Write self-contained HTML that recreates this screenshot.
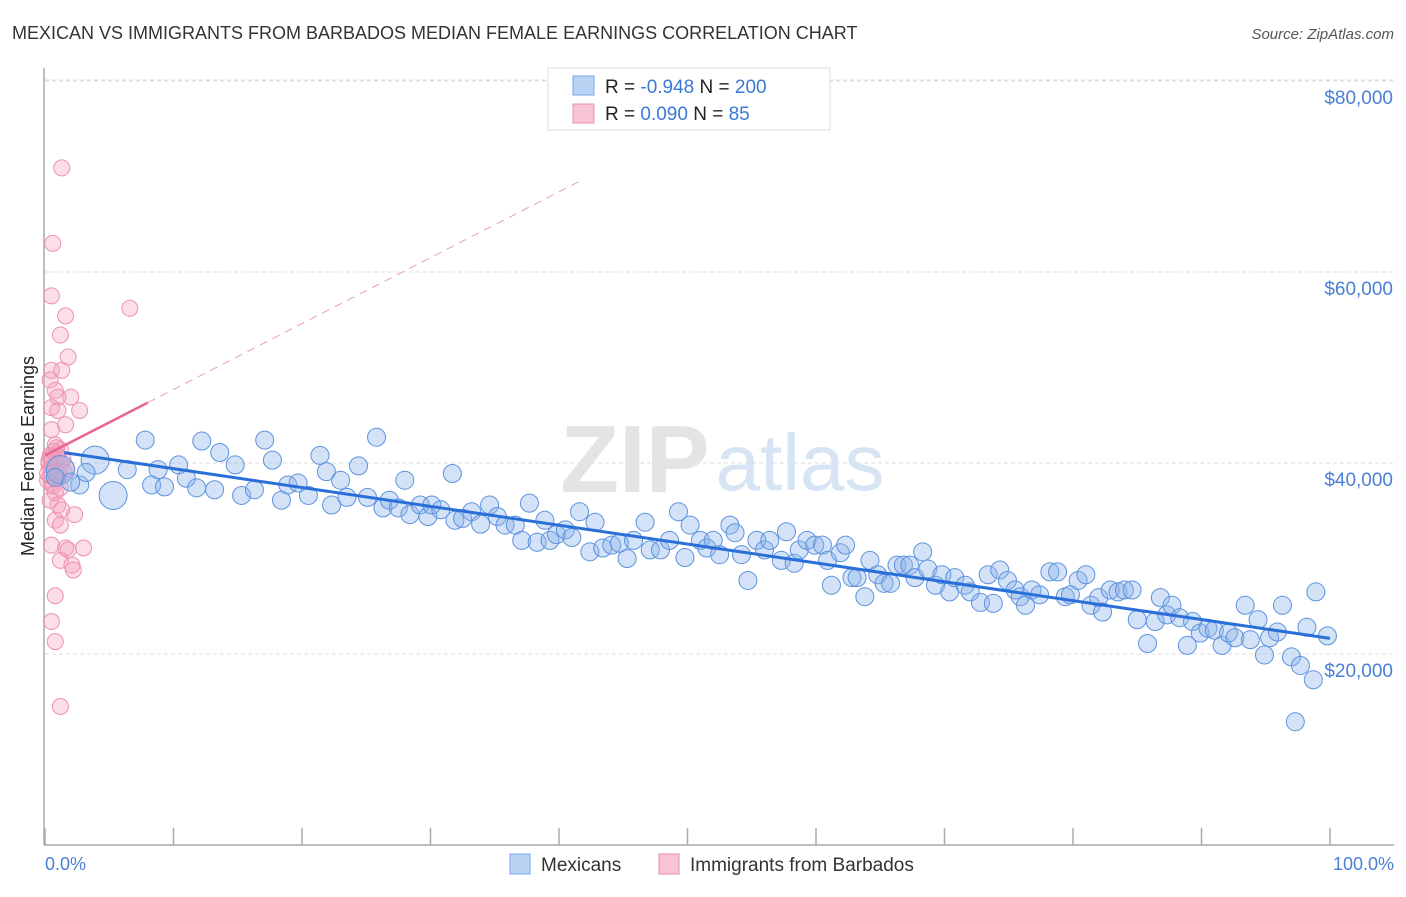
<!DOCTYPE html>
<html><head><meta charset="utf-8">
<style>
body{margin:0;background:#fff;font-family:"Liberation Sans",sans-serif;}
svg text{font-family:"Liberation Sans",sans-serif;}
</style></head>
<body>
<svg id="chart" width="1406" height="892" viewBox="0 0 1406 892">
  <text x="12" y="39" font-size="18" fill="#333">MEXICAN VS IMMIGRANTS FROM BARBADOS MEDIAN FEMALE EARNINGS CORRELATION CHART</text>
  <text x="1394" y="39" font-size="15" fill="#555" font-style="italic" text-anchor="end">Source: ZipAtlas.com</text>
  <g id="grid"></g>
  <g>
    <text x="635" y="492" font-size="96" fill="#e4e4e4" font-family="Liberation Serif" text-anchor="middle" font-weight="bold">ZIP</text>
    <text x="800" y="490" font-size="80" fill="#d6e4f4" text-anchor="middle">atlas</text>
  </g>
  <line x1="44" y1="68" x2="44" y2="845" stroke="#aaa" stroke-width="1.5"/>
  <line x1="44" y1="845" x2="1394" y2="845" stroke="#aaa" stroke-width="1.5"/>
  <g id="xticks"></g>
  <g id="yticks"></g>
  <text transform="translate(34,456) rotate(-90)" font-size="18" fill="#222" text-anchor="middle">Median Female Earnings</text>
  <text x="45" y="870" font-size="18" fill="#4a7fd6">0.0%</text>
  <text x="1394" y="870" font-size="18" fill="#4a7fd6" text-anchor="end">100.0%</text>
  <g id="pinkPts"></g>
  <g id="bluePts"></g>
  <g id="trends"></g>
  <g>
    <rect x="548" y="68" width="282" height="62" fill="#fff" stroke="#ddd"/>
    <rect x="573" y="76" width="21" height="19" fill="#b9d3f5" stroke="#7aa6e6"/>
    <rect x="573" y="104" width="21" height="19" fill="#f8c3d4" stroke="#ea8fae"/>
    <text x="605" y="93" font-size="19" fill="#222">R = <tspan fill="#3a78d8">-0.948</tspan>   N = <tspan fill="#3a78d8">200</tspan></text>
    <text x="605" y="120" font-size="19" fill="#222">R =  <tspan fill="#3a78d8">0.090</tspan>   N =   <tspan fill="#3a78d8">85</tspan></text>
  </g>
  <g>
    <rect x="510" y="854" width="20" height="20" fill="#b9d3f5" stroke="#7aa6e6"/>
    <text x="541" y="871" font-size="19" fill="#333">Mexicans</text>
    <rect x="659" y="854" width="20" height="20" fill="#f8c3d4" stroke="#ea8fae"/>
    <text x="690" y="871" font-size="19" fill="#333">Immigrants from Barbados</text>
  </g>
</svg>
<script>
const yTicks=[20000,40000,60000,80000];
const yTickLabels=["$20,000","$40,000","$60,000","$80,000"];
const xTicks=[0,10,20,30,40,50,60,70,80,90,100];
const blueX=[1.2,3.9,2.7,5.3,6.4,7.8,8.3,8.8,9.3,10.4,11,11.8,12.2,13.2,13.6,14.8,15.3,16.3,17.1,17.7,18.4,18.9,19.7,20.5,21.4,21.9,22.3,23,23.5,24.4,25.1,25.8,26.3,26.8,27.5,28,28.4,29.2,29.8,30.1,30.8,31.7,31.9,32.5,33.2,33.9,34.6,35.2,35.8,36.6,37.1,37.7,38.3,38.9,39.3,39.8,40.5,41,41.6,42.4,42.8,43.4,44.1,44.7,45.3,45.8,46.7,47.1,47.9,48.6,49.3,49.8,50.2,51,51.5,52,52.5,53.3,53.7,54.2,54.7,55.4,56,56.4,57.3,57.7,58.3,58.7,59.3,59.9,60.5,60.9,61.2,61.9,62.3,62.8,63.2,63.8,64.2,64.8,65.3,65.8,66.3,66.8,67.3,67.7,68.3,68.7,69.3,69.8,70.4,70.8,71.6,72,72.8,73.4,73.8,74.3,74.9,75.5,75.9,76.3,76.8,77.4,78.2,78.8,79.4,79.8,80.4,81,81.4,82,82.3,82.9,83.5,84,84.6,85,85.8,86.4,86.8,87.3,87.7,88.3,88.9,89.3,89.9,90.5,91,91.6,92.1,92.6,93.4,93.8,94.4,94.9,95.3,95.9,96.3,97,97.7,98.2,98.7,97.3,98.9,99.8,0.8,2.0,3.2];
const blueY=[39.3,40.3,37.7,36.6,39.3,42.4,37.7,39.3,37.5,39.8,38.4,37.4,42.3,37.2,41.1,39.8,36.6,37.2,42.4,40.3,36.1,37.7,37.9,36.6,40.8,39.1,35.6,38.2,36.4,39.7,36.4,42.7,35.3,36.1,35.3,38.2,34.6,35.6,34.4,35.6,35.1,38.9,34,34.2,34.9,33.6,35.6,34.4,33.5,33.5,31.9,35.8,31.7,34,31.9,32.5,33,32.2,34.9,30.7,33.8,31.1,31.4,31.6,30,31.9,33.8,30.9,30.9,31.9,34.9,30.1,33.5,31.9,31.1,31.9,30.4,33.5,32.7,30.4,27.7,31.9,30.9,31.9,29.8,32.8,29.5,30.9,31.9,31.4,31.4,29.8,27.2,30.6,31.4,28,28,26,29.8,28.3,27.4,27.4,29.3,29.3,29.3,28,30.7,28.9,27.2,28.3,26.5,28,27.2,26.5,25.4,28.3,25.3,28.8,27.7,26.7,26,25.1,26.7,26.2,28.6,28.6,26,26.2,27.7,28.3,25.1,25.9,24.4,26.7,26.5,26.7,26.7,23.6,21.1,23.4,25.9,24.1,25.1,23.8,20.9,23.4,22.2,22.7,22.5,20.9,22.2,21.7,25.1,21.5,23.6,19.9,21.7,22.3,25.1,19.7,18.8,22.8,17.3,12.9,26.5,21.9,38.5,38.0,39.0];
const blueBig=[1,1,0,1,0,0,0,0,0,0,0];
const pinkX=[1.3,0.6,0.5,1.6,6.6,1.2,1.8,0.5,1.3,0.4,0.8,2,1,2.7,0.5,1,1.6,0.5,0.8,1.2,0.4,1,0.5,1.3,0.8,0.4,1,0.5,1.2,0.8,0.4,1,1.3,2.3,0.8,1.2,0.5,1.6,1.8,3,1.2,2.1,2.2,0.8,0.5,0.8,1.2,0.3,0.6,0.9,1.5,0.2,0.7,1.1,1.4,0.3,0.6,0.9,1.7,0.2,0.5];
const pinkY=[70.9,63,57.5,55.4,56.2,53.4,51.1,49.7,49.7,48.7,47.6,46.9,46.9,45.5,45.8,45.5,44,43.5,41.9,41.4,40.8,40.5,40.1,39.8,39.3,38.7,38.4,37.9,37.4,36.9,36.1,35.6,35.1,34.6,34,33.5,31.4,31.1,30.9,31.1,29.8,29.3,28.8,26.1,23.4,21.3,14.5,40.2,39.6,40.9,39.0,38.2,41.2,38.8,40.4,39.9,37.6,41.6,39.4,38.9,40.6];
const pinkTrend=[40.8,0.69];
const X=p=>45+p*12.85;
const Y=k=>845-k*1000/20000*191;
const NS="http://www.w3.org/2000/svg";
function mk(tag,attrs,parent){const e=document.createElementNS(NS,tag);for(const a in attrs)e.setAttribute(a,attrs[a]);parent.appendChild(e);return e;}
const grid=document.getElementById('grid'),yt=document.getElementById('yticks'),xt=document.getElementById('xticks');
yTicks.forEach((v,i)=>{
  const l=mk('line',{x1:45,x2:1394,y1:Y(v/1000),y2:Y(v/1000),stroke:'#ddd','stroke-dasharray':'4,3'},grid);
  
  
  const t=mk('text',{x:1393,y:Y(v/1000)+23,'font-size':19,fill:'#4a7fd6','text-anchor':'end'},yt);
  t.textContent=yTickLabels[i];
  
  
});
mk('line',{x1:45,x2:1394,y1:80,y2:80,stroke:'#ddd','stroke-dasharray':'4,3'},grid);
xTicks.forEach(p=>{
  const l=mk('line',{x1:X(p),x2:X(p),y1:828,y2:845,stroke:'#aaa','stroke-width':1.5},xt);
  
  
});
const pg=document.getElementById('pinkPts');
pinkX.forEach((p,i)=>{
  const c=mk('circle',{cx:X(p),cy:Y(pinkY[i]),r:8,fill:'rgba(244,160,190,0.35)',stroke:'#ee91b2','stroke-width':1},pg);
  
  
});
const bg=document.getElementById('bluePts');
blueX.forEach((p,i)=>{
  const c=mk('circle',{cx:X(p),cy:Y(blueY[i]),r:blueBig[i]?14:9,fill:'rgba(140,180,235,0.38)',stroke:'#5d93e0','stroke-width':1},bg);
  
  
});
// blue regression
const n=blueX.length,mx=blueX.reduce((a,b)=>a+b)/n,my=blueY.reduce((a,b)=>a+b)/n;
let sxy=0,sxx=0;blueX.forEach((x,i)=>{sxy+=(x-mx)*(blueY[i]-my);sxx+=(x-mx)**2;});
const b=sxy/sxx,a=my-b*mx;
const tg=document.getElementById('trends');
const bl=mk('line',{x1:X(1.5),y1:Y(a+b*1.5),x2:X(100),y2:Y(a+b*100),stroke:'#2a6fd8','stroke-width':3},tg);


const pl=mk('line',{x1:X(0),y1:Y(pinkTrend[0]),x2:X(8),y2:Y(pinkTrend[0]+pinkTrend[1]*8),stroke:'#e8668f','stroke-width':2.5},tg);


const pd=mk('line',{x1:X(8),y1:Y(pinkTrend[0]+pinkTrend[1]*8),x2:X(41.5),y2:Y(pinkTrend[0]+pinkTrend[1]*41.5),stroke:'#e8a0b8','stroke-width':1,'stroke-dasharray':'8,6'},tg);


</script>
</body></html>
